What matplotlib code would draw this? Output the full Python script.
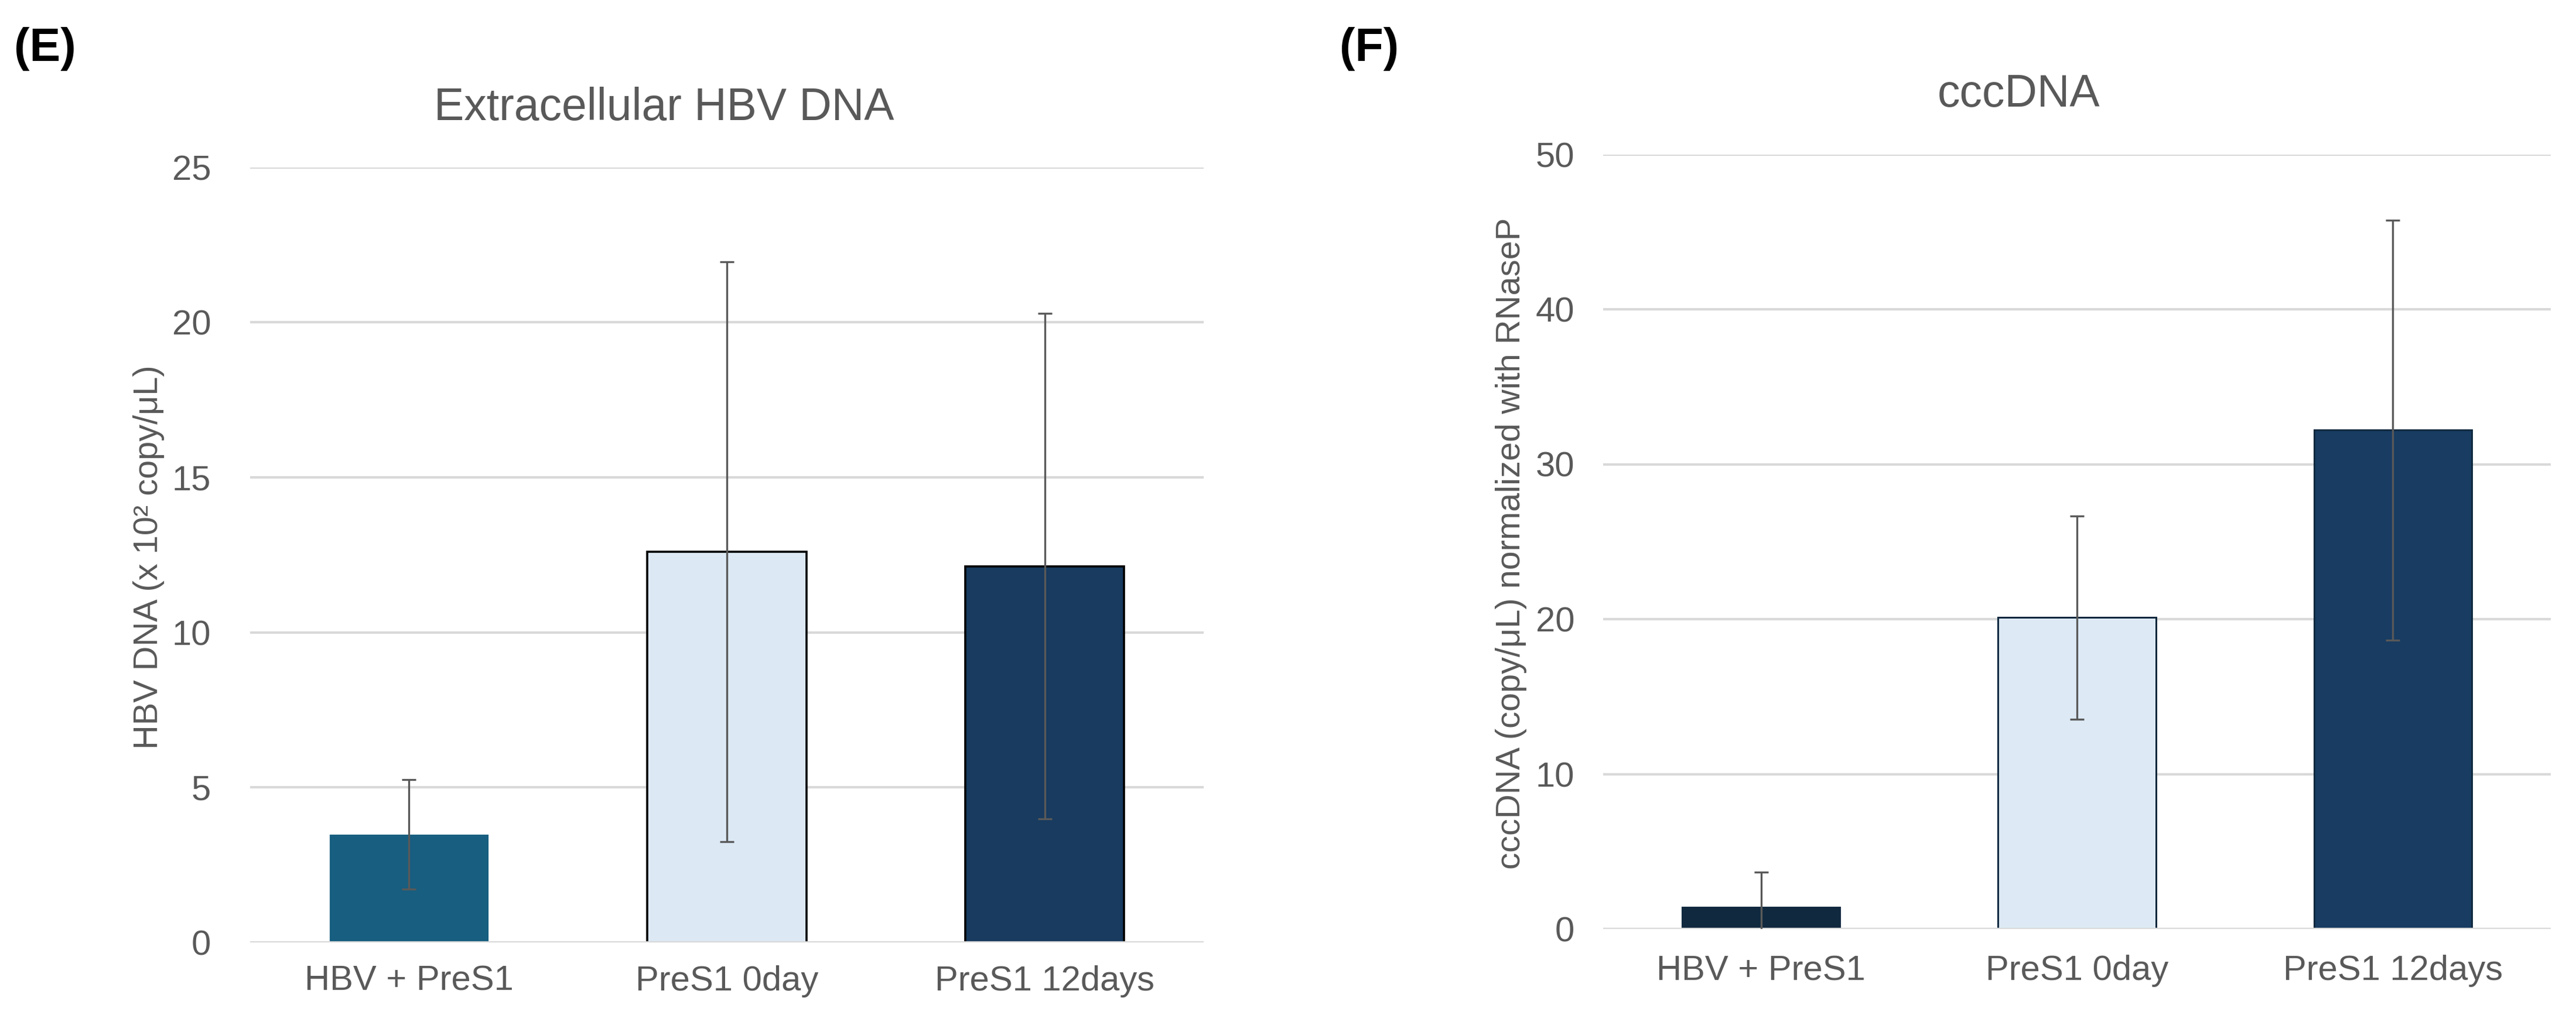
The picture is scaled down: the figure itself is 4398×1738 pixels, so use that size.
import matplotlib
matplotlib.use("Agg")
import matplotlib.pyplot as plt
import numpy as np

plt.rcParams['font.family'] = ['Liberation Sans', 'DejaVu Sans']

categories = ["HBV + PreS1", "PreS1 0day", "PreS1 12days"]

# Panel E: Extracellular HBV DNA (x 10^2 copy/uL)
e_values = [3.48, 12.60, 12.13]
e_errors = [1.77, 9.35, 8.15]
e_ticks = [0, 5, 10, 15, 20, 25]

# Panel F: cccDNA normalized with RNaseP
f_values = [1.41, 20.10, 32.20]
f_errors = [2.27, 6.55, 13.55]
f_ticks = [0, 10, 20, 30, 40, 50]

W, H = 4398, 1738
DPI = 200
fig = plt.figure(figsize=(W / DPI, H / DPI), dpi=DPI)

TXT = "#595959"
GRID = "#D9D9D9"
ERR = "#595959"


def px2fig(x, y):
    return x / W, 1 - y / H


def make_axes(x0, x1, ytop, ybot):
    l, t = px2fig(x0, ytop)
    r, b = px2fig(x1, ybot)
    return fig.add_axes([l, b, r - l, t - b])


def style(ax, ticks, ypad, xpad):
    for s in ax.spines.values():
        s.set_visible(False)
    ax.set_axisbelow(True)
    ax.yaxis.grid(True, color=GRID, linewidth=1.5)
    ax.set_yticks(ticks)
    ax.set_ylim(ticks[0], ticks[-1])
    ax.set_xlim(-0.5, 2.5)
    ax.tick_params(axis='both', length=0, labelsize=21.5, colors=TXT)
    ax.tick_params(axis='y', pad=ypad)
    ax.tick_params(axis='x', pad=xpad)
    ax.axhline(0, color=GRID, linewidth=1.5, zorder=1.5)


x = np.arange(len(categories))

# ---------- Panel E ----------
axE = make_axes(427, 2055, 285.5, 1609)
style(axE, e_ticks, 24, 14)
e_faces = ["#175E80", "#DCE9F5", "#183B5F"]
e_edges = ["#175E80", "#000000", "#000000"]
e_lw = [0, 1.3, 1.3]
axE.bar(x, e_values, width=0.5, color=e_faces, edgecolor=e_edges, linewidth=e_lw, zorder=1)
axE.errorbar(x, e_values, yerr=e_errors, fmt='none', ecolor=ERR, elinewidth=1.2,
             capsize=4.3, capthick=1.2, zorder=3)
axE.set_xticks(x)
axE.set_xticklabels(categories)

# ---------- Panel F ----------
axF = make_axes(2737, 4355, 263.5, 1586)
style(axF, f_ticks, 17.5, 16)
f_faces = ["#10293F", "#DDEAF6", "#183C62"]
f_edges = ["#10293F", "#10293F", "#10293F"]
axF.bar(x, f_values, width=0.5, color=f_faces, edgecolor=f_edges, linewidth=1.1, zorder=1)
axF.errorbar(x, f_values, yerr=f_errors, fmt='none', ecolor=ERR, elinewidth=1.2,
             capsize=4.3, capthick=1.2, zorder=3)
axF.set_xticks(x)
axF.set_xticklabels(categories)

# ---------- Titles, labels ----------
tx, ty = px2fig(1134, 205)
fig.text(tx, ty, "Extracellular HBV DNA", ha='center', va='baseline', fontsize=27.7, color=TXT)
tx, ty = px2fig(3447, 182)
fig.text(tx, ty, "cccDNA", ha='center', va='baseline', fontsize=27.7, color=TXT)

tx, ty = px2fig(254, 951)
fig.text(tx, ty, "HBV DNA (x 10² copy/μL)", rotation=90, ha='center', va='center',
         fontsize=20.8, color=TXT)
tx, ty = px2fig(2580, 928)
fig.text(tx, ty, "cccDNA (copy/μL) normalized with RNaseP", rotation=90, ha='center',
         va='center', fontsize=20.8, color=TXT)

tx, ty = px2fig(24, 104)
fig.text(tx, ty, "(E)", ha='left', va='baseline', fontsize=28.5, fontweight='bold', color='black')
tx, ty = px2fig(2287, 104)
fig.text(tx, ty, "(F)", ha='left', va='baseline', fontsize=28.5, fontweight='bold', color='black')

fig.savefig("out.png", dpi=DPI, facecolor='white')
